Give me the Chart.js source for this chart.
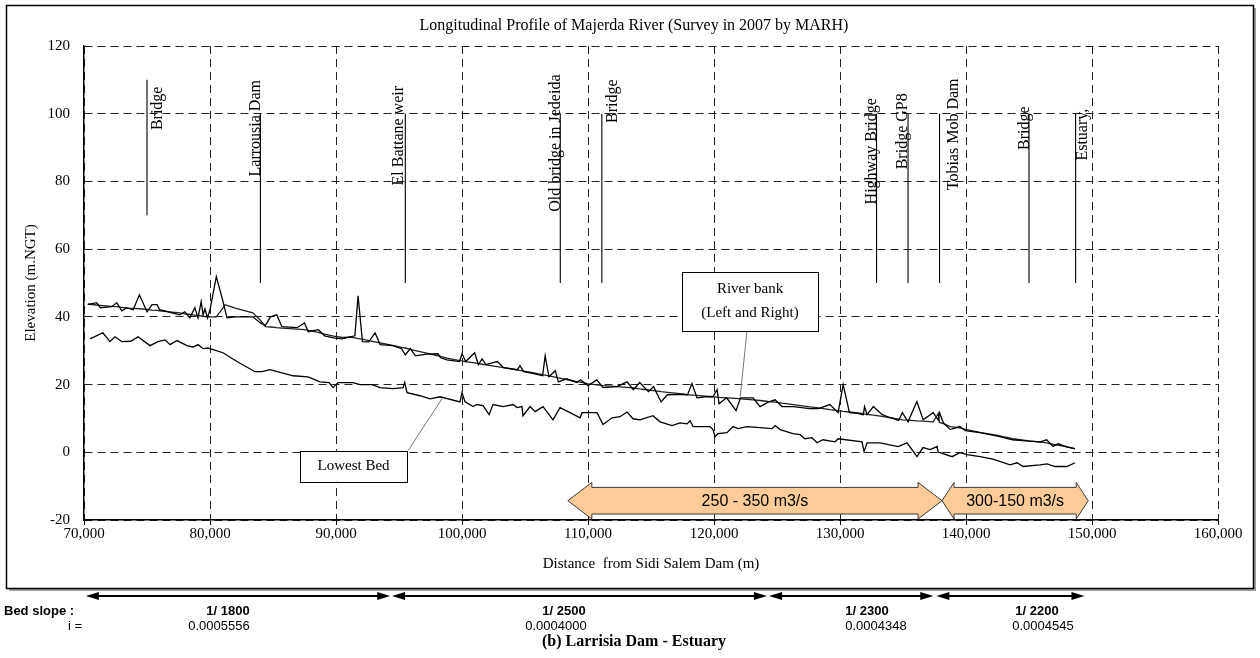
<!DOCTYPE html>
<html>
<head>
<meta charset="utf-8">
<script src="https://cdn.jsdelivr.net/npm/chart.js@4.4.1/dist/chart.umd.min.js"></script>
<style>
  html, body { margin: 0; padding: 0; background: #fff; }
  #wrap { width: 1260px; height: 658px; position: relative; }
  canvas { display: block; }
</style>
</head>
<body>
<div id="wrap"><canvas id="profile" width="1260" height="658"></canvas></div>
<script>
// ---- Survey data (distance from Sidi Salem Dam in m, elevation in m.NGT) ----
const bankDist = [70300,71000,71300,72200,72600,73000,73400,73900,74400,75000,75400,75800,76000,77000,77600,78000,78400,78800,79050,79300,79450,79600,79800,80000,80500,81000,81200,81350,82000,83400,84000,84400,84800,85300,85700,86900,87500,87800,88600,89100,89800,90500,91100,91500,91750,92100,92600,93100,93500,94500,95200,95500,95900,96300,97200,98100,98300,98800,99800,100000,100300,101000,101300,101600,101900,102800,103300,104400,104600,104900,105600,106400,106600,106900,107400,107650,108300,109100,109400,110000,110700,111200,112300,113100,113600,114100,114800,115200,115800,116300,117300,117900,118250,118650,119300,119900,120250,120400,121000,121750,122100,123100,123650,124300,124850,125400,126300,127600,128300,129200,129850,130250,130750,131400,131850,131950,132150,132650,133350,134000,134650,134950,135400,136100,136600,137400,137800,137900,138200,138750,139500,139950,141100,142500,143700,145000,145900,146400,146900,147300,148000,148650];
const leftBank = [43.6,44.2,42.7,43.0,44.2,41.8,42.7,42.1,46.5,41.5,43.6,43.6,42.1,41.2,40.6,41.5,39.7,42.7,39.7,44.5,40.6,42.3,39.7,42.1,51.9,45.0,42.0,39.7,40.0,40.0,38.2,37.5,40.0,40.6,37.1,36.8,38.2,35.6,36.2,34.4,33.8,33.5,34.1,34.4,46.2,32.7,32.6,35.3,31.8,31.5,30.6,28.8,30.6,28.5,29.0,29.1,27.9,27.3,26.8,29.1,26.8,29.4,25.9,27.6,25.9,26.8,25.0,24.4,25.6,23.8,23.3,22.6,28.5,22.3,24.1,20.8,21.7,20.6,21.4,19.7,21.4,19.1,19.4,20.8,18.5,20.6,17.9,19.4,14.9,17.0,17.1,17.0,20.3,16.1,16.4,16.4,18.5,14.3,16.1,12.3,16.1,16.1,13.5,14.8,15.5,13.5,13.5,12.9,12.9,14.1,11.7,20.0,11.7,11.5,11.1,13.5,11.1,13.5,11.1,10.2,9.4,11.7,9.0,15.0,9.6,11.7,9.5,11.7,8.7,6.7,7.6,6.4,5.8,4.8,3.7,3.3,3.1,3.7,1.7,2.5,1.6,1.1];
const rightBank = [43.8,43.5,43.4,43.1,43.0,42.8,42.6,42.5,42.4,42.2,42.0,41.9,41.8,41.4,41.2,40.9,40.7,40.5,40.4,40.3,40.2,40.1,40.0,40.0,40.0,42.5,43.6,43.4,42.6,41.2,39.0,37.1,37.0,36.8,36.7,36.4,36.2,36.0,35.4,34.9,34.3,33.9,34.0,33.8,33.6,33.4,33.0,32.6,32.3,31.6,31.0,30.8,30.4,30.0,29.3,28.5,28.3,27.8,27.1,27.0,26.8,26.4,26.2,26.0,25.8,25.3,25.0,24.3,24.2,24.0,23.5,22.9,22.8,22.6,22.2,22.0,21.5,20.9,20.7,20.2,19.9,19.7,19.4,19.2,19.0,18.7,18.4,18.2,17.9,17.7,17.3,17.0,16.9,16.8,16.6,16.4,16.3,16.2,16.1,15.9,15.8,15.5,15.3,15.0,14.8,14.5,14.1,13.4,13.1,12.6,12.3,12.1,11.9,11.6,11.4,11.3,11.2,11.0,10.6,10.2,9.8,9.6,9.5,9.3,9.2,9.0,11.5,8.8,8.5,7.6,7.2,6.8,5.9,5.0,4.0,3.4,3.0,2.8,2.3,2.1,1.6,1.0];

const bedDist = [70480,71500,72060,72460,73000,73700,74290,75240,75870,76430,76830,77380,78170,78650,79050,79450,79840,81030,82140,83570,84130,84760,86590,87780,88730,89450,89760,90160,91350,91900,92860,93490,94530,95320,95450,95640,96670,97460,98260,99840,100000,100240,100880,101190,101670,102150,102460,103260,104050,104370,104760,104840,105400,105800,106430,107220,107780,108570,109370,109530,110720,111190,111910,112540,113100,113570,114130,115160,115720,116670,117300,117860,118100,118340,119690,119920,120080,120320,121030,121510,121910,122620,123650,124610,124850,125240,126270,126830,127220,127780,128180,128650,129610,129850,131750,131910,132150,133180,134610,135320,136110,136590,137150,137700,137800,137940,138890,139530,140080,141110,142140,143490,144050,144530,145870,146430,147060,148020,148650];
const lowestBed = [33.5,35.3,32.7,34.1,32.7,32.8,34.1,31.5,32.7,33.2,31.8,33.0,31.5,31.1,31.8,30.6,30.8,29.4,26.8,23.8,23.8,24.4,22.6,22.3,20.8,20.6,19.1,20.6,20.6,20.0,20.0,19.1,18.8,19.1,20.6,17.6,16.7,15.8,16.4,14.9,17.6,14.9,13.5,14.1,13.8,11.1,14.1,13.5,14.1,13.2,13.5,10.8,13.5,12.0,13.5,9.6,13.2,11.7,10.2,11.7,11.7,8.2,10.2,10.5,11.9,9.9,9.6,10.8,9.0,7.9,8.7,8.4,9.3,7.6,7.6,6.7,4.6,5.5,5.8,7.6,7.0,7.6,7.3,7.0,7.9,6.7,5.5,5.2,4.0,4.3,2.8,3.7,3.1,4.0,3.1,0.2,2.8,2.8,1.7,2.8,-1.3,1.4,0.8,1.7,0.0,-0.1,-1.3,-0.1,-0.7,-1.3,-2.0,-3.7,-3.1,-4.2,-3.7,-3.4,-4.2,-4.2,-3.1];

// ---- Structures along the river ----
const landmarkNames = ['Bridge','Larrousia Dam','El Battane weir','Old bridge in Jedeida','Bridge','Highway Bridge','Bridge GP8','Tobias Mob Dam','Bridge','Estuary,'];
const landmarkDist  = [75000, 84000, 95500, 107800, 111100, 132900, 135400, 137900, 145000, 148700];
const landmarkTop   = [110, 100, 100, 100, 100, 100, 100, 100, 100, 100];
const landmarkBase  = [70, 50, 50, 50, 50, 50, 50, 50, 50, 50];

// ---- Design discharge reaches ----
const flowLabels = ['250 - 350 m3/s', '300-150 m3/s'];
const flowFrom   = [108400, 138100];
const flowTo     = [138100, 149700];

// ---- Bed slope reaches ----
const slopeRatio = ['1/ 1800', '1/ 2500', '1/ 2300', '1/ 2200'];
const slopeValue = ['0.0005556', '0.0004000', '0.0004348', '0.0004545'];
const slopeFrom  = [70150, 94450, 124370, 137650];
const slopeTo    = [94300, 124200, 137400, 149400];

// ---- Axis ticks ----
const yTicks = [-20, 0, 20, 40, 60, 80, 100, 120];
const xTicks = [70000, 80000, 90000, 100000, 110000, 120000, 130000, 140000, 150000, 160000];

// ---- Layout / styling ----
const SERIF = '"Liberation Serif", "Times New Roman", serif';
const SANS = '"Liberation Sans", Arial, sans-serif';
const labelLayout = {               // per-landmark label: horizontal shift (px), vertical centre (m)
  dx:  [11, -5, -7, -4, 11, -5, -5, 14, -4, 7],
  mid: [101.6, 95.7, 93.5, 91.3, 103.7, 88.9, 94.8, 93.9, 95.7, 93.8]
};
const flowLayout = { yMid: -14.3, head: [24, 12], headHalf: 18.3, bodyHalf: 13.3 };
const slopeLayout = { arrowY: 596, ratioY: 611, valueY: 626,
  ratioX: [228, 564, 867, 1037], valueX: [219, 556, 876, 1043] };
const callouts = [
  { lines: ['River bank', '(Left and Right)'], x0: 117460, x1: 128260, y0: 53.3, y1: 35.9,
    from: [122620, 35.9], to: [122070, 16.1] },
  { lines: ['Lowest Bed'], x0: 87140, x1: 95640, y0: 0.5, y1: -8.7,
    from: [95720, 0.5], to: [98410, 15.8] }
];

const pts = (xs, ys) => xs.map((x, i) => ({ x: x, y: ys[i] }));

const lineStyle = { borderColor: '#000', borderWidth: 1.3, pointRadius: 0, fill: false, tension: 0 };
const datasets = [
  Object.assign({ label: 'Left bank', data: pts(bankDist, leftBank) }, lineStyle),
  Object.assign({ label: 'Right bank', data: pts(bankDist, rightBank) }, lineStyle, { borderColor: '#222' }),
  Object.assign({ label: 'Lowest bed', data: pts(bedDist, lowestBed) }, lineStyle)
];
landmarkDist.forEach((d, i) => {
  datasets.push({
    label: landmarkNames[i],
    data: [{ x: d, y: landmarkBase[i] }, { x: d, y: landmarkTop[i] }],
    borderColor: '#000', borderWidth: 1.1, pointRadius: 0, fill: false
  });
});

function arrowHead(ctx, x, y, dir, len, half) {
  ctx.beginPath();
  ctx.moveTo(x, y);
  ctx.lineTo(x - dir * len, y - half);
  ctx.lineTo(x - dir * len, y + half);
  ctx.closePath();
  ctx.fill();
}

const decorations = {
  id: 'decorations',
  beforeDraw(chart) {
    const ctx = chart.ctx;
    ctx.save();
    ctx.fillStyle = '#fff';
    ctx.fillRect(0, 0, chart.width, chart.height);
    // frame around the plot
    ctx.fillStyle = '#a0a0a0';
    ctx.fillRect(1254, 8, 2, 583);
    ctx.fillRect(9, 589, 1247, 2);
    ctx.strokeStyle = '#000';
    ctx.lineWidth = 1.5;
    ctx.strokeRect(6.5, 5.5, 1247, 583);
    ctx.restore();
  },
  afterDatasetsDraw(chart) {
    const ctx = chart.ctx;
    const xs = chart.scales.x, ys = chart.scales.y;
    ctx.save();

    // structure names, rotated
    ctx.fillStyle = '#000';
    ctx.font = '16px ' + SERIF;
    ctx.textAlign = 'center';
    ctx.textBaseline = 'middle';
    landmarkNames.forEach((name, i) => {
      const px = xs.getPixelForValue(landmarkDist[i]) + labelLayout.dx[i];
      const py = ys.getPixelForValue(labelLayout.mid[i]);
      ctx.save();
      ctx.translate(px, py);
      ctx.rotate(-Math.PI / 2);
      ctx.fillText(name, 0, 0);
      ctx.restore();
    });

    // callout boxes with leader lines
    callouts.forEach(c => {
      const l = xs.getPixelForValue(c.x0), r = xs.getPixelForValue(c.x1);
      const t = ys.getPixelForValue(c.y0), b = ys.getPixelForValue(c.y1);
      ctx.strokeStyle = '#777';
      ctx.lineWidth = 1;
      ctx.beginPath();
      ctx.moveTo(xs.getPixelForValue(c.from[0]), ys.getPixelForValue(c.from[1]));
      ctx.lineTo(xs.getPixelForValue(c.to[0]), ys.getPixelForValue(c.to[1]));
      ctx.stroke();
      ctx.fillStyle = '#fff';
      ctx.fillRect(l, t, r - l, b - t);
      ctx.strokeStyle = '#000';
      ctx.strokeRect(Math.round(l) + 0.5, Math.round(t) + 0.5, Math.round(r - l), Math.round(b - t));
      ctx.fillStyle = '#000';
      ctx.font = '15px ' + SERIF;
      const cx = (l + r) / 2, n = c.lines.length, step = 24;
      c.lines.forEach((s, k) => {
        ctx.fillText(s, cx, (t + b) / 2 + (k - (n - 1) / 2) * step);
      });
    });

    // design discharge double arrows
    const yc = ys.getPixelForValue(flowLayout.yMid);
    const H = flowLayout.headHalf, B = flowLayout.bodyHalf;
    flowLabels.forEach((txt, i) => {
      const x0 = xs.getPixelForValue(flowFrom[i]), x1 = xs.getPixelForValue(flowTo[i]);
      const h = flowLayout.head[i];
      ctx.beginPath();
      ctx.moveTo(x0, yc);
      ctx.lineTo(x0 + h, yc - H);
      ctx.lineTo(x0 + h, yc - B);
      ctx.lineTo(x1 - h, yc - B);
      ctx.lineTo(x1 - h, yc - H);
      ctx.lineTo(x1, yc);
      ctx.lineTo(x1 - h, yc + H);
      ctx.lineTo(x1 - h, yc + B);
      ctx.lineTo(x0 + h, yc + B);
      ctx.lineTo(x0 + h, yc + H);
      ctx.closePath();
      ctx.fillStyle = '#FDCB98';
      ctx.fill();
      ctx.strokeStyle = '#3a3a3a';
      ctx.lineWidth = 1;
      ctx.stroke();
      ctx.fillStyle = '#000';
      ctx.font = '16px ' + SANS;
      ctx.fillText(txt, (x0 + x1) / 2, yc + 1);
    });
    ctx.restore();
  },
  afterDraw(chart) {
    const ctx = chart.ctx;
    const xs = chart.scales.x;
    ctx.save();
    ctx.fillStyle = '#000';
    ctx.textBaseline = 'middle';

    // chart heading
    ctx.textAlign = 'center';
    ctx.font = '16px ' + SERIF;
    ctx.fillText('Longitudinal Profile of Majerda River (Survey in 2007 by MARH)', 634, 26);

    // bed slope reaches below the frame
    ctx.strokeStyle = '#000';
    ctx.lineWidth = 2;
    slopeFrom.forEach((f, i) => {
      const a = xs.getPixelForValue(f), b = xs.getPixelForValue(slopeTo[i]);
      const y = slopeLayout.arrowY;
      ctx.beginPath();
      ctx.moveTo(a + 8, y);
      ctx.lineTo(b - 8, y);
      ctx.stroke();
      arrowHead(ctx, a, y, -1, 13, 4);
      arrowHead(ctx, b, y, 1, 13, 4);
      ctx.textAlign = 'center';
      ctx.font = 'bold 13px ' + SANS;
      ctx.fillText(slopeRatio[i], slopeLayout.ratioX[i], slopeLayout.ratioY);
      ctx.font = '13px ' + SANS;
      ctx.fillText(slopeValue[i], slopeLayout.valueX[i], slopeLayout.valueY);
    });
    ctx.textAlign = 'left';
    ctx.font = 'bold 13px ' + SANS;
    ctx.fillText('Bed slope :', 4, slopeLayout.ratioY);
    ctx.textAlign = 'right';
    ctx.font = '13px ' + SANS;
    ctx.fillText('i =', 82, slopeLayout.valueY);

    ctx.textAlign = 'center';
    ctx.font = 'bold 16px ' + SERIF;
    ctx.fillText('(b) Larrisia Dam - Estuary', 634, 642);
    ctx.restore();
  }
};

Chart.defaults.font.family = SERIF;
Chart.defaults.color = '#000';

new Chart(document.getElementById('profile'), {
  type: 'line',
  data: { datasets: datasets },
  options: {
    responsive: false,
    animation: false,
    devicePixelRatio: 1,
    parsing: true,
    layout: { padding: { top: 46, left: 0, right: 42, bottom: 85 } },
    plugins: { legend: { display: false }, tooltip: { enabled: false }, title: { display: false } },
    scales: {
      x: {
        type: 'linear',
        min: 70000, max: 160000,
        afterFit: s => { s.height = 53; },
        afterBuildTicks: s => { s.ticks = xTicks.map(v => ({ value: v })); },
        ticks: {
          padding: 0,
          maxRotation: 0,
          font: { size: 15, family: SERIF },
          color: '#000',
          callback: v => v.toLocaleString('en-US')
        },
        grid: { color: '#222', lineWidth: 1, tickLength: 5, tickColor: '#000', tickBorderDash: [], drawTicks: true },
        border: { display: true, color: '#000', width: 1.5, dash: [8, 5] },
        title: { display: true, text: 'Distance  from Sidi Salem Dam (m)', font: { size: 15, family: SERIF }, color: '#000', padding: { top: 0, bottom: 0 } }
      },
      y: {
        type: 'linear',
        min: -20, max: 120,
        afterFit: s => { s.width = 84; },
        afterBuildTicks: s => { s.ticks = yTicks.map(v => ({ value: v })); },
        ticks: { padding: 14, font: { size: 15, family: SERIF }, color: '#000' },
        grid: { color: '#222', lineWidth: 1, drawTicks: false },
        border: { display: true, color: '#000', width: 1.5, dash: [8, 5] },
        title: { display: true, text: 'Elevation (m.NGT)', font: { size: 15, family: SERIF }, color: '#000', padding: { top: 22, bottom: 0 } }
      }
    }
  },
  plugins: [decorations]
});
</script>
</body>
</html>
